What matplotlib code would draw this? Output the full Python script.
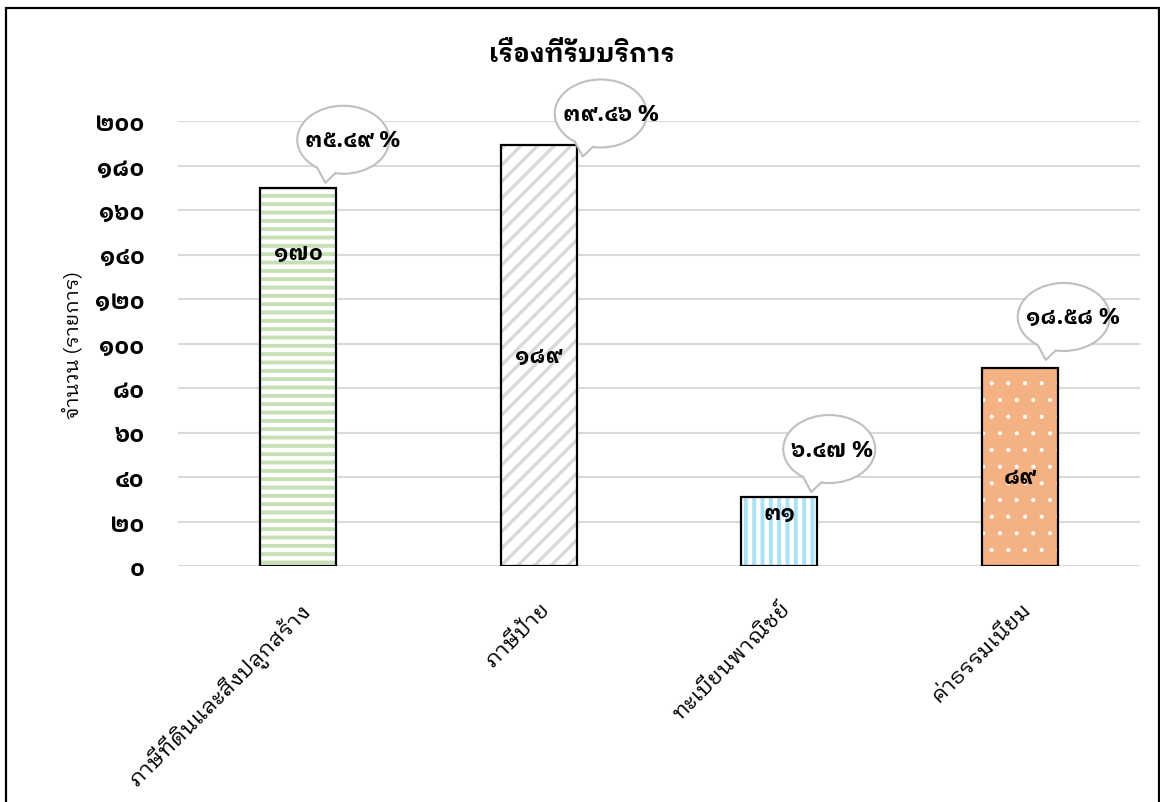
import matplotlib
matplotlib.use("Agg")
import matplotlib.pyplot as plt
from matplotlib.patches import Ellipse, Polygon, Rectangle
from matplotlib.lines import Line2D
from matplotlib.transforms import IdentityTransform
from matplotlib.ticker import FuncFormatter, MultipleLocator
import numpy as np

THAI = ['IBM Plex Sans Thai Looped', 'DejaVu Sans']
plt.rcParams['font.family'] = THAI

# data
categories = ['ภาษีที่ดินและสิ่งปลูกสร้าง', 'ภาษีป้าย', 'ทะเบียนพาณิชย์', 'ค่าธรรมเนียม']
counts = [170, 189, 31, 89]
percents = [35.49, 39.46, 6.47, 18.58]

# styling per bar: fill colour, hatch, hatch colour, hatch width
fills = ['white', 'white', 'white', '#f4b183']
hatches = ['--', '//', '||', '.']
hatch_colors = ['#c5e0b4', '#d9d9d9', '#a9e2f5', 'white']
hatch_widths = [2.8, 2.4, 2.8, 0.5]
# where the count label sits inside each bar (data units)
label_y = [141, 94.5, 24, 40]
# bubble centre offsets from the bar top, in pixels
bubble_off = [(45, 48), (62, 32), (50, 48), (44, 51)]

THAI_DIGITS = str.maketrans('0123456789', '๐๑๒๓๔๕๖๗๘๙')


def thai(s):
    return str(s).translate(THAI_DIGITS)


fig = plt.figure(figsize=(11.6, 8.03), dpi=100)
W, H = 1160, 803
ax = fig.add_axes([178 / W, 1 - 567 / H, (1140 - 178) / W, (567 - 122) / H])

x = np.arange(len(categories))
bw = 0.315
for i in range(len(categories)):
    with plt.rc_context({'hatch.linewidth': hatch_widths[i]}):
        b = ax.bar(x[i], counts[i], width=bw, color=fills[i], hatch=hatches[i],
                   edgecolor=hatch_colors[i], linewidth=0, zorder=2)[0]
    if hasattr(b, 'set_hatch_linewidth'):
        b.set_hatch_linewidth(hatch_widths[i])
    ax.bar(x[i], counts[i], width=bw, fill=False, edgecolor='black',
           linewidth=1.6, zorder=3)
    ax.text(x[i], label_y[i], thai(counts[i]), ha='center', va='center',
            fontsize=16, fontweight='bold', zorder=4)

ax.set_xlim(-0.5, 3.5)
ax.set_ylim(0, 200)
ax.yaxis.set_major_locator(MultipleLocator(20))
ax.yaxis.set_major_formatter(FuncFormatter(lambda v, p: thai(int(v))))
ax.grid(axis='y', color='#d9d9d9', linewidth=1.5, zorder=0)
ax.set_axisbelow(True)
for s in ax.spines.values():
    s.set_visible(False)
ax.tick_params(axis='y', length=0, pad=24, labelsize=17)
for t in ax.get_yticklabels():
    t.set_fontweight('bold')
ax.set_xticks(x)
ax.set_xticklabels(categories, rotation=45, ha='right', rotation_mode='anchor',
                   fontsize=16)
ax.tick_params(axis='x', length=0, pad=22)

fig.text(582 / W, 1 - 55 / H, 'เรื่องที่รับบริการ', ha='center', va='center',
         fontsize=18.5, fontweight='bold')
fig.text(72 / W, 1 - 345 / H, 'จำนวน (รายการ)', ha='center', va='center',
         rotation=90, fontsize=14.5)

# speech bubbles with the percentages
ew, eh = 92, 68
for i in range(len(categories)):
    px, py = ax.transData.transform((x[i], counts[i]))
    cx, cy = px + bubble_off[i][0], py + bubble_off[i][1]
    fig.add_artist(Ellipse((cx, cy), ew, eh, facecolor='white', edgecolor='#bfbfbf',
                           linewidth=1.5, transform=IdentityTransform(), zorder=5))
    u1, u2 = -26, -8
    y1 = cy - eh / 2 * np.sqrt(1 - (2 * u1 / ew) ** 2)
    y2 = cy - eh / 2 * np.sqrt(1 - (2 * u2 / ew) ** 2)
    tip = (cx - 18, cy - 43)
    fig.add_artist(Polygon([(cx + u1, y1 + 4), (cx + u1, y1), tip, (cx + u2, y2),
                            (cx + u2, y2 + 4)], closed=True, facecolor='white',
                           edgecolor='none', transform=IdentityTransform(), zorder=6))
    fig.add_artist(Line2D([cx + u1, tip[0], cx + u2], [y1, tip[1], y2], color='#bfbfbf',
                          linewidth=1.5, transform=IdentityTransform(), zorder=6))
    fig.text(cx - ew / 2 + 8, cy, thai(f'{percents[i]:.2f}') + ' %', ha='left',
             va='center', fontsize=16, fontweight='bold', transform=IdentityTransform(),
             zorder=7)

# outer frame
fig.add_artist(Rectangle((6 / W, -0.1), (1159 - 6) / W, 1.1 - 9 / H, fill=False,
                         edgecolor='black', linewidth=1.6, transform=fig.transFigure,
                         clip_on=False))

fig.savefig('out.png', dpi=100)
